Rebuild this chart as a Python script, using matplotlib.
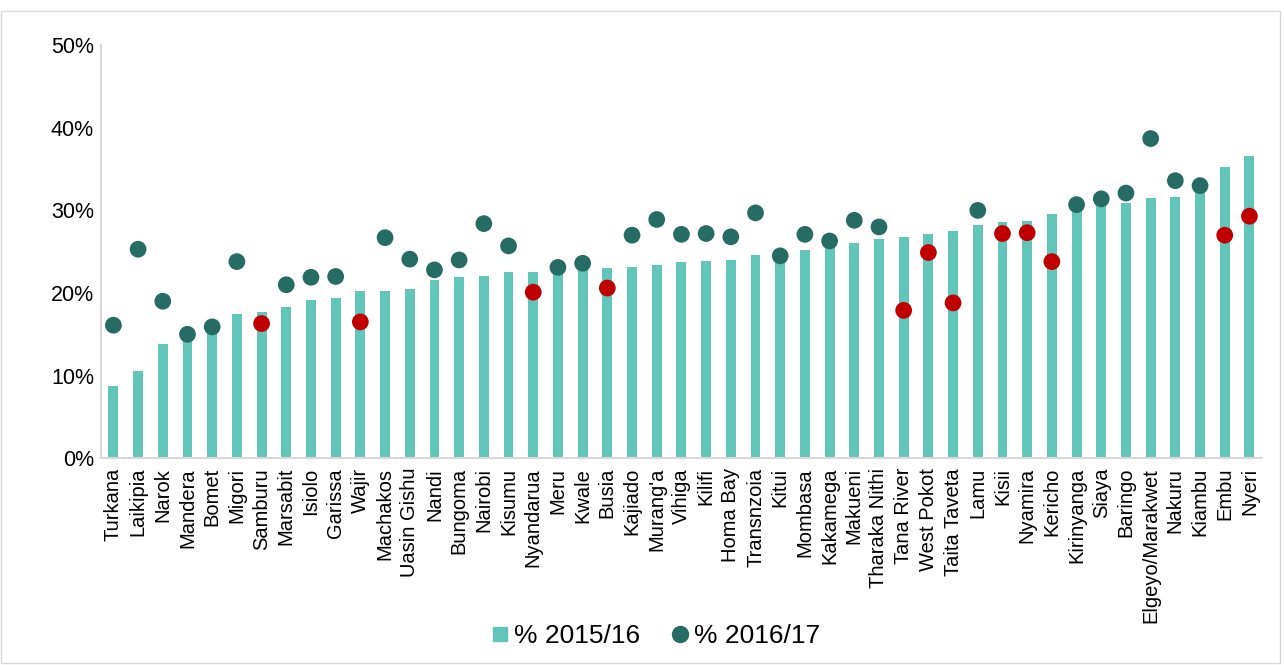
import matplotlib.pyplot as plt
import numpy as np
from matplotlib.patches import Rectangle
from matplotlib.lines import Line2D
from matplotlib.ticker import FuncFormatter

plt.rcParams["font.family"] = ["Liberation Sans", "DejaVu Sans"]

counties = [
    "Turkana", "Laikipia", "Narok", "Mandera", "Bomet", "Migori", "Samburu",
    "Marsabit", "Isiolo", "Garissa", "Wajir", "Machakos", "Uasin Gishu",
    "Nandi", "Bungoma", "Nairobi", "Kisumu", "Nyandarua", "Meru", "Kwale",
    "Busia", "Kajiado", "Murang'a", "Vihiga", "Kilifi", "Homa Bay",
    "Transnzoia", "Kitui", "Mombasa", "Kakamega", "Makueni", "Tharaka Nithi",
    "Tana River", "West Pokot", "Taita Taveta", "Lamu", "Kisii", "Nyamira",
    "Kericho", "Kirinyanga", "Siaya", "Baringo", "Elgeyo/Marakwet", "Nakuru",
    "Kiambu", "Embu", "Nyeri",
]
pct_2015 = [
    8.8, 10.6, 13.8, 14.8, 15.7, 17.4, 17.7, 18.3, 19.1, 19.4, 20.2, 20.2,
    20.5, 21.6, 21.9, 22.1, 22.5, 22.6, 23.0, 23.3, 23.0, 23.1, 23.4, 23.7,
    23.9, 24.0, 24.6, 24.4, 25.2, 26.0, 26.1, 26.5, 26.8, 27.1, 27.5, 28.2,
    28.6, 28.7, 29.6, 30.5, 31.2, 30.9, 31.5, 31.6, 32.8, 35.3, 36.6,
]
pct_2016 = [
    16.1, 25.3, 19.0, 15.0, 15.9, 23.8, 16.3, 21.0, 21.9, 22.0, 16.5, 26.7,
    24.1, 22.8, 24.0, 28.4, 25.7, 20.1, 23.1, 23.6, 20.6, 27.0, 28.9, 27.1,
    27.2, 26.8, 29.7, 24.5, 27.1, 26.3, 28.8, 28.0, 17.9, 24.9, 18.8, 30.0,
    27.2, 27.3, 23.8, 30.7, 31.4, 32.1, 38.7, 33.6, 33.0, 27.0, 29.3,
]

bar_color = "#62C5BA"
dot_color = "#276C64"
drop_color = "#C00000"

fig = plt.figure(figsize=(12.84, 6.65), dpi=100)
ax = fig.add_axes([0.0787, 0.311, 0.904, 0.621])

x = np.arange(len(counties))
y15 = np.array(pct_2015)
y16 = np.array(pct_2016)
ax.bar(x, y15, width=0.4, color=bar_color, zorder=2)
# counties where the share fell are shown in red
colors = np.where(y16 < y15, drop_color, dot_color)
ax.scatter(x, y16, s=145, color=colors, zorder=3, linewidths=0)

ax.set_xlim(-0.5, len(counties) - 0.5)
ax.set_ylim(0, 50)
ax.set_yticks(np.arange(0, 51, 10))
ax.yaxis.set_major_formatter(FuncFormatter(lambda v, p: f"{v:.0f}%"))
ax.set_xticks(x)
ax.set_xticklabels(counties, rotation=90, fontsize=14.5)
ax.tick_params(axis="y", labelsize=15.5, length=0, pad=5)
ax.tick_params(axis="x", length=0, pad=7)
for s in ["top", "right"]:
    ax.spines[s].set_visible(False)
for s in ["left", "bottom"]:
    ax.spines[s].set_color("#d9d9d9")
    ax.spines[s].set_linewidth(1.5)

handles = [
    Line2D([], [], marker="s", ls="", color=bar_color, markersize=10),
    Line2D([], [], marker="o", ls="", color=dot_color, markersize=11.5),
]
fig.legend(handles, ["% 2015/16", "% 2016/17"], loc="center",
           bbox_to_anchor=(0.511, 0.043), ncol=2, frameon=False,
           fontsize=19, handlelength=0.6, handletextpad=0.25, columnspacing=1.2)

fig.patches.append(Rectangle((0.001, 0.003), 0.996, 0.98, transform=fig.transFigure,
                             fill=False, edgecolor="#d9d9d9", linewidth=1))

fig.savefig("out.png", dpi=100)
